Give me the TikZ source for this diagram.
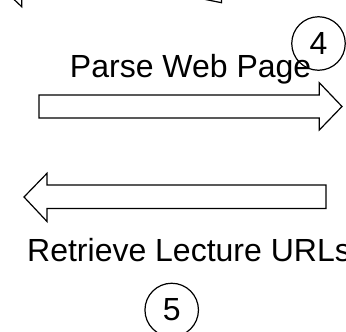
\documentclass[tikz,border=0pt]{standalone}
\usepackage{fontspec}
\setmainfont{Liberation Sans}
\begin{document}
\begin{tikzpicture}[x=1pt,y=-1pt,
  outline/.style={draw=black,line width=1.2pt,line join=miter},
  label/.style={inner sep=0pt,anchor=base west,font=\fontsize{32}{36}\selectfont},
  stepnum/.style={circle,draw=black,line width=1.2pt,minimum size=53.5pt,inner sep=0pt,font=\fontsize{32}{36}\selectfont}]
\useasboundingbox (0,0) rectangle (346,332);
\clip (0,0) rectangle (346,332);
% cropped fragments at top
\draw[outline] (13.5,-1) -- (21.7,6.7) -- (21.7,-1);
\draw[outline] (203,-1) -- (221.5,2.7) -- (221.5,-1);
% step 4
\node[stepnum] (four) at (318.5,43.5) {4};
\node[label] (parse) at (69.8,77) {Parse Web Page};
% right arrow
\draw[outline] (39,95) -- (319.3,95) -- (319.3,82.7) -- (342,106.5) -- (319.3,130) -- (319.3,118) -- (39,118) -- cycle;
% left arrow
\draw[outline] (326,185) -- (47,185) -- (47,173.3) -- (24,197) -- (47,221.5) -- (47,208.5) -- (326,208.5) -- cycle;
% step 5
\node[label] (retrieve) at (27,261.7) {Retrieve Lecture URLs};
\node[stepnum] (five) at (171.7,310) {5};
\end{tikzpicture}
\end{document}
